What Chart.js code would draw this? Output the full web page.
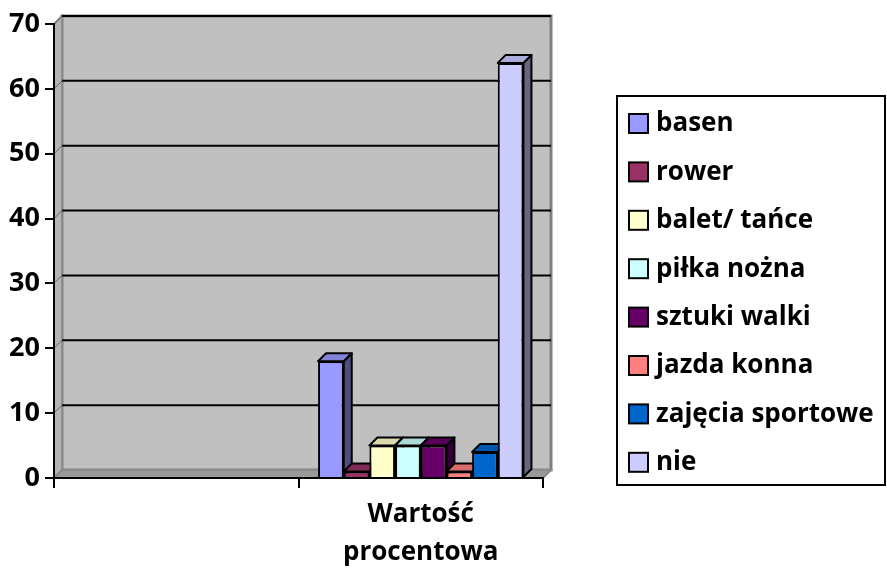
<!DOCTYPE html>
<html>
<head>
<meta charset="utf-8">
<script src="https://cdn.jsdelivr.net/npm/chart.js@4.4.1/dist/chart.umd.min.js"></script>
<style>
  html, body { margin: 0; padding: 0; background: #fff; }
  #wrap { width: 887px; height: 574px; }
</style>
</head>
<body>
<div id="wrap"><canvas id="chart"></canvas></div>
<script>
// Chart data
const categories = ["", ["Wartość", "procentowa"]];
const seriesNames = ["basen", "rower", "balet/ tańce", "piłka nożna", "sztuki walki", "jazda konna", "zajęcia sportowe", "nie"];
const seriesValues = [18, 1, 5, 5, 5, 1, 4, 64];
const seriesColors = ["#9999ff", "#993366", "#ffffcc", "#ccffff", "#660066", "#ff8080", "#0066cc", "#ccccff"];
const yTicks = [0, 10, 20, 30, 40, 50, 60, 70];

const FONT = "'Open Sans', Lato, sans-serif";
const DX = 8, DY = -8; // depth of the 3d look

function shade(hex, f) {
  const n = parseInt(hex.slice(1), 16);
  const r = Math.round(((n >> 16) & 255) * f);
  const g = Math.round(((n >> 8) & 255) * f);
  const b = Math.round((n & 255) * f);
  return `rgb(${r},${g},${b})`;
}

// back wall, side wall, floor and gridlines
const wallsPlugin = {
  id: "walls",
  beforeDraw(chart) {
    const { ctx, chartArea: a, scales } = chart;
    const L = a.left, R = a.right, T = a.top, B = a.bottom;
    ctx.save();
    // back wall
    ctx.fillStyle = "#c0c0c0";
    ctx.fillRect(L + DX, T + DY, R - L, B - T);
    ctx.strokeStyle = "#808080";
    ctx.lineWidth = 3;
    ctx.strokeRect(L + DX, T + DY, R - L, B - T);
    // left wall
    ctx.beginPath();
    ctx.moveTo(L, T); ctx.lineTo(L + DX, T + DY);
    ctx.lineTo(L + DX, B + DY); ctx.lineTo(L, B);
    ctx.closePath();
    ctx.fillStyle = "#b4b4b4";
    ctx.fill();
    ctx.lineWidth = 2;
    ctx.strokeStyle = "#8c8c8c";
    ctx.stroke();
    // floor
    ctx.beginPath();
    ctx.moveTo(L, B); ctx.lineTo(L + DX, B + DY);
    ctx.lineTo(R + DX, B + DY); ctx.lineTo(R, B);
    ctx.closePath();
    ctx.fillStyle = "#9a9a9a";
    ctx.fill();
    ctx.stroke();
    // gridlines on the back wall
    yTicks.forEach(v => {
      if (v === 0) return;
      const y = scales.y.getPixelForValue(v);
      ctx.beginPath();
      ctx.strokeStyle = "#000";
      ctx.lineWidth = 2;
      ctx.moveTo(L + DX, y + DY);
      ctx.lineTo(R + DX, y + DY);
      ctx.stroke();
      ctx.beginPath();
      ctx.strokeStyle = "#666";
      ctx.lineWidth = 1;
      ctx.moveTo(L, y);
      ctx.lineTo(L + DX, y + DY);
      ctx.stroke();
    });
    ctx.restore();
  },
  // top and side faces of the bars, drawn before the fronts
  beforeDatasetsDraw(chart) {
    const ctx = chart.ctx;
    ctx.save();
    ctx.lineWidth = 2;
    ctx.strokeStyle = "#000";
    ctx.lineJoin = "round";
    chart.data.datasets.forEach((ds, i) => {
      chart.getDatasetMeta(i).data.forEach((bar, j) => {
        if (ds.data[j] == null) return;
        const { x, y, width, base } = bar.getProps(["x", "y", "width", "base"], true);
        const l = x - width / 2, r = x + width / 2;
        // side
        ctx.beginPath();
        ctx.moveTo(r, y); ctx.lineTo(r + DX, y + DY);
        ctx.lineTo(r + DX, base + DY); ctx.lineTo(r, base);
        ctx.closePath();
        ctx.fillStyle = shade(seriesColors[i], 0.5);
        ctx.fill(); ctx.stroke();
        // top
        ctx.beginPath();
        ctx.moveTo(l, y); ctx.lineTo(l + DX, y + DY);
        ctx.lineTo(r + DX, y + DY); ctx.lineTo(r, y);
        ctx.closePath();
        ctx.fillStyle = shade(seriesColors[i], 0.85);
        ctx.fill(); ctx.stroke();
      });
    });
    ctx.restore();
  },
  // legend box on the right
  afterDraw(chart) {
    const ctx = chart.ctx;
    ctx.save();
    ctx.fillStyle = "#fff";
    ctx.fillRect(617, 96, 268, 389);
    ctx.strokeStyle = "#000";
    ctx.lineWidth = 2;
    ctx.strokeRect(617, 96, 268, 389);
    ctx.font = "bold 26px " + FONT;
    ctx.textBaseline = "middle";
    seriesNames.forEach((name, i) => {
      const cy = 123 + i * 48.4;
      ctx.fillStyle = seriesColors[i];
      ctx.fillRect(629, cy - 9, 19, 19);
      ctx.strokeRect(629, cy - 9, 19, 19);
      ctx.fillStyle = "#000";
      ctx.fillText(name, 656, cy + 1);
    });
    ctx.restore();
  }
};

const datasets = seriesNames.map((name, i) => ({
  label: name,
  data: categories.map((c, j) => (j === 1 ? seriesValues[i] : null)),
  backgroundColor: seriesColors[i],
  borderColor: "#000",
  borderWidth: 2,
  barPercentage: 1,
  categoryPercentage: 0.84
}));

const ctx = document.getElementById("chart").getContext("2d");
new Chart(ctx, {
  type: "bar",
  data: { labels: categories, datasets },
  plugins: [wallsPlugin],
  options: {
    responsive: true,
    maintainAspectRatio: false,
    animation: false,
    layout: { padding: { top: 24, right: 344, left: 0, bottom: 0 } },
    plugins: {
      legend: { display: false },
      tooltip: { enabled: false }
    },
    scales: {
      x: {
        afterFit(scale) { scale.height = 96; },
        grid: { display: true, drawOnChartArea: false, offset: true, tickLength: 10, color: "#000", lineWidth: 2 },
        border: { color: "#000", width: 2 },
        ticks: {
          color: "#000",
          font: { family: FONT, size: 26, weight: "bold", lineHeight: 1.45 },
          padding: 8,
          maxRotation: 0,
          autoSkip: false
        }
      },
      y: {
        min: 0,
        max: 70,
        afterFit(scale) { scale.width = 54; },
        grid: { drawOnChartArea: false, tickLength: 9, color: "#000", lineWidth: 2 },
        border: { color: "#000", width: 2 },
        ticks: {
          stepSize: 10,
          color: "#000",
          padding: 5,
          font: { family: FONT, size: 27, weight: "bold" }
        }
      }
    }
  }
});
</script>
</body>
</html>
